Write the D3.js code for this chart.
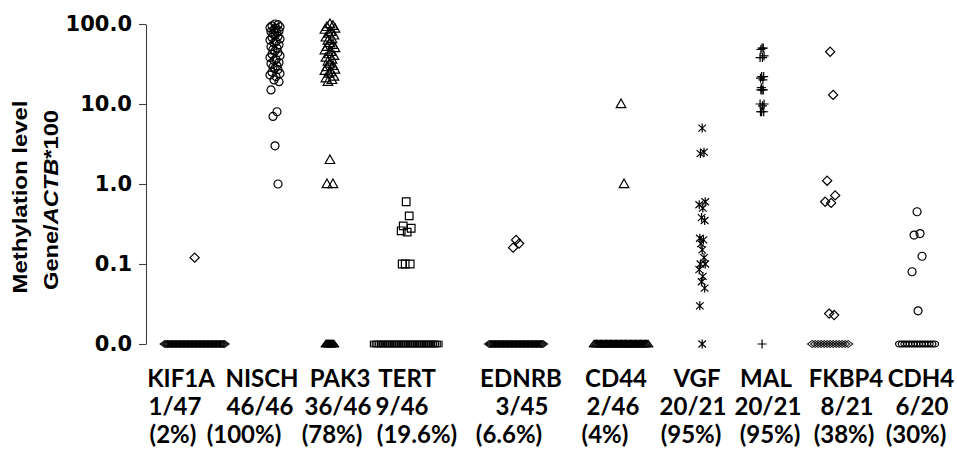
<!DOCTYPE html>
<html>
<head>
<meta charset="utf-8">
<script src="https://cdn.jsdelivr.net/npm/d3@7"></script>
<style>
  body { margin: 0; background: #ffffff; }
  svg { display: block; }
</style>
</head>
<body>
<div id="chart"></div>
<script>
// ---- data ----
const genes = ["KIF1A", "NISCH", "PAK3", "TERT", "EDNRB", "CD44", "VGF", "MAL", "FKBP4", "CDH4"];
const positiveCounts = [1, 46, 36, 9, 3, 2, 20, 20, 8, 6];
const totalCounts = [47, 46, 46, 46, 45, 46, 21, 21, 21, 20];
const percentLabels = ["(2%)", "(100%)", "(78%)", "(19.6%)", "(6.6%)", "(4%)", "(95%)", "(95%)", "(38%)", "(30%)"];
const markerTypes = ["diamond", "circle", "triangle", "square", "diamond", "triangle", "star", "plus", "diamond", "circle"];

// methylation level of the methylated samples (Gene/ACTB*100)
const kif1aValues = [0.12];
const nischValues = [100, 98, 95, 92, 90, 88, 85, 82, 80, 78, 75, 72, 70, 68, 65, 63, 60, 58, 55, 52,
  50, 48, 46, 44, 42, 40, 38, 36, 35, 33, 32, 30, 29, 28, 27, 25, 24, 23, 22, 20, 19, 15, 8, 7, 3, 1];
const pak3Values = [100, 95, 92, 88, 85, 80, 76, 72, 68, 65, 62, 58, 55, 52, 50, 47, 45, 42, 40, 38,
  36, 34, 32, 30, 29, 27, 26, 25, 24, 22, 21, 20, 19, 2, 1, 1];
const tertValues = [0.6, 0.4, 0.3, 0.28, 0.26, 0.25, 0.1, 0.1, 0.1];
const ednrbValues = [0.2, 0.18, 0.16];
const cd44Values = [10, 1];
const vgfValues = [5, 2.5, 2.4, 0.6, 0.55, 0.5, 0.38, 0.35, 0.21, 0.2, 0.18, 0.15, 0.12, 0.1, 0.1,
  0.085, 0.07, 0.06, 0.05, 0.03];
const malValues = [50, 50, 48, 40, 38, 38, 22, 22, 21, 20, 16, 15, 15, 15, 10, 10, 9.5, 8, 8, 8];
const fkbp4Values = [45, 13, 1.1, 0.72, 0.6, 0.58, 0.024, 0.023];
const cdh4Values = [0.45, 0.24, 0.23, 0.125, 0.08, 0.026];

const yTickValues = [0.01, 0.1, 1, 10, 100];
const yTickLabels = ["0.0", "0.1", "1.0", "10.0", "100.0"];

// ---- layout ----
const width = 957, height = 453;
const columnSlot = [1.02, 2.0, 2.67, 3.6, 4.94, 6.22, 7.21, 7.94, 8.77, 9.83];
// label centres, one list per text row (the labels are not aligned in the original)
const labelSlots = [
  [0.854, 1.841, 2.793, 3.61, 5.0, 6.159, 7.146, 7.988, 8.963, 9.878],
  [0.78, 1.817, 2.768, 3.549, 5.012, 6.122, 7.098, 8.012, 8.976, 9.89],
  [0.756, 1.622, 2.695, 3.732, 4.854, 6.024, 7.073, 8.037, 8.939, 9.817]
];
const zeroSpread = [60, 0, 8, 64, 54, 54, 0, 0, 36, 35];
const jitter = [0, 3, -3, 5, -5, 1, -1, 4, -4, 2, -2];

const valueLists = [kif1aValues, nischValues, pak3Values, tertValues, ednrbValues,
  cd44Values, vgfValues, malValues, fkbp4Values, cdh4Values];

const svg = d3.select("#chart").append("svg")
  .attr("width", width).attr("height", height)
  .style("background-color", "#ffffff");

const x = d3.scaleLinear().domain([0, 10]).range([111, 931]);
const y = d3.scaleLog().domain([0.01, 100]).range([344, 24]);

// y axis
const yAxis = d3.axisLeft(y)
  .tickValues(yTickValues)
  .tickFormat((d, i) => yTickLabels[i])
  .tickSize(7)
  .tickSizeOuter(0)
  .tickPadding(7);

const gy = svg.append("g")
  .attr("transform", "translate(146,0)")
  .call(yAxis);
gy.select(".domain").attr("stroke", "#404040").attr("stroke-width", 1.1);
gy.selectAll(".tick line").attr("stroke", "#404040").attr("stroke-width", 1.1);
gy.selectAll(".tick text")
  .attr("fill", "#000")
  .style("font-family", "'DejaVu Sans', sans-serif")
  .style("font-weight", "bold")
  .style("font-size", "21px");

// y title
const yTitle = svg.append("g")
  .style("font-family", "'Liberation Sans', Arial, sans-serif")
  .style("font-weight", "bold")
  .style("font-size", "20px")
  .attr("fill", "#000");

yTitle.append("text")
  .attr("transform", "translate(27,197) rotate(-90)")
  .attr("text-anchor", "middle")
  .attr("textLength", 193)
  .attr("lengthAdjust", "spacingAndGlyphs")
  .text("Methylation level");

const t2 = yTitle.append("text")
  .attr("transform", "translate(58,200) rotate(-90)")
  .attr("text-anchor", "middle")
  .attr("textLength", 180)
  .attr("lengthAdjust", "spacingAndGlyphs");
t2.append("tspan").text("Gene/");
t2.append("tspan").style("font-style", "italic").text("ACTB");
t2.append("tspan").text("*100");

// marker shapes
function markerPath(type) {
  const p = d3.path();
  if (type === "circle") {
    p.moveTo(4, 0); p.arc(0, 0, 4, 0, 2 * Math.PI);
  } else if (type === "diamond") {
    p.moveTo(0, -4.6); p.lineTo(4.6, 0); p.lineTo(0, 4.6); p.lineTo(-4.6, 0); p.closePath();
  } else if (type === "square") {
    p.rect(-3.8, -3.8, 7.6, 7.6);
  } else if (type === "triangle") {
    p.moveTo(0, -5); p.lineTo(4.8, 3.6); p.lineTo(-4.8, 3.6); p.closePath();
  } else if (type === "plus") {
    p.moveTo(-4.5, 0); p.lineTo(4.5, 0); p.moveTo(0, -4.5); p.lineTo(0, 4.5);
  } else if (type === "star") {
    p.moveTo(-3.8, -3.5); p.lineTo(3.8, 3.5); p.moveTo(-3.8, 3.5); p.lineTo(3.8, -3.5);
    p.moveTo(0, -4.5); p.lineTo(0, 4.5);
  }
  return p.toString();
}

// points: methylated samples + the unmethylated ones plotted on the 0.0 line
const points = [];
genes.forEach((g, gi) => {
  const cx = x(columnSlot[gi]);
  const t = markerTypes[gi];
  const spreadPos = t === "plus" ? 0.4 : (t === "star" ? 0.6 : 1);
  valueLists[gi].forEach((v, k) => {
    points.push({ gene: g, type: t, zero: false, px: cx + spreadPos * jitter[k % jitter.length], py: y(v) });
  });
  const nZero = totalCounts[gi] - positiveCounts[gi];
  for (let k = 0; k < nZero; k++) {
    const off = nZero > 1 ? -zeroSpread[gi] / 2 + zeroSpread[gi] * k / (nZero - 1) : 0;
    points.push({ gene: g, type: t, zero: nZero > 1, px: cx + off, py: y(0.01) });
  }
});

svg.append("g").selectAll("path")
  .data(points)
  .enter().append("path")
  .attr("d", d => markerPath(d.type))
  .attr("transform", d => `translate(${d.px},${d.py})` + (d.zero ? " scale(1,0.75)" : ""))
  .attr("fill", "none")
  .attr("stroke", "#000")
  .attr("stroke-width", 1.2);

// category labels (three lines per gene)
const labelRows = [
  genes,
  genes.map((g, i) => positiveCounts[i] + "/" + totalCounts[i]),
  percentLabels
];
const rowBaselines = [387, 415, 443];

const labels = svg.append("g")
  .style("font-family", "Lato, 'Open Sans', sans-serif")
  .style("font-weight", "bold")
  .style("font-size", "24px")
  .attr("fill", "#000");

labelRows.forEach((row, ri) => {
  labels.selectAll(null)
    .data(row)
    .enter().append("text")
    .attr("x", (d, i) => x(labelSlots[ri][i]))
    .attr("y", rowBaselines[ri])
    .attr("text-anchor", "middle")
    .text(d => d);
});
</script>
</body>
</html>
